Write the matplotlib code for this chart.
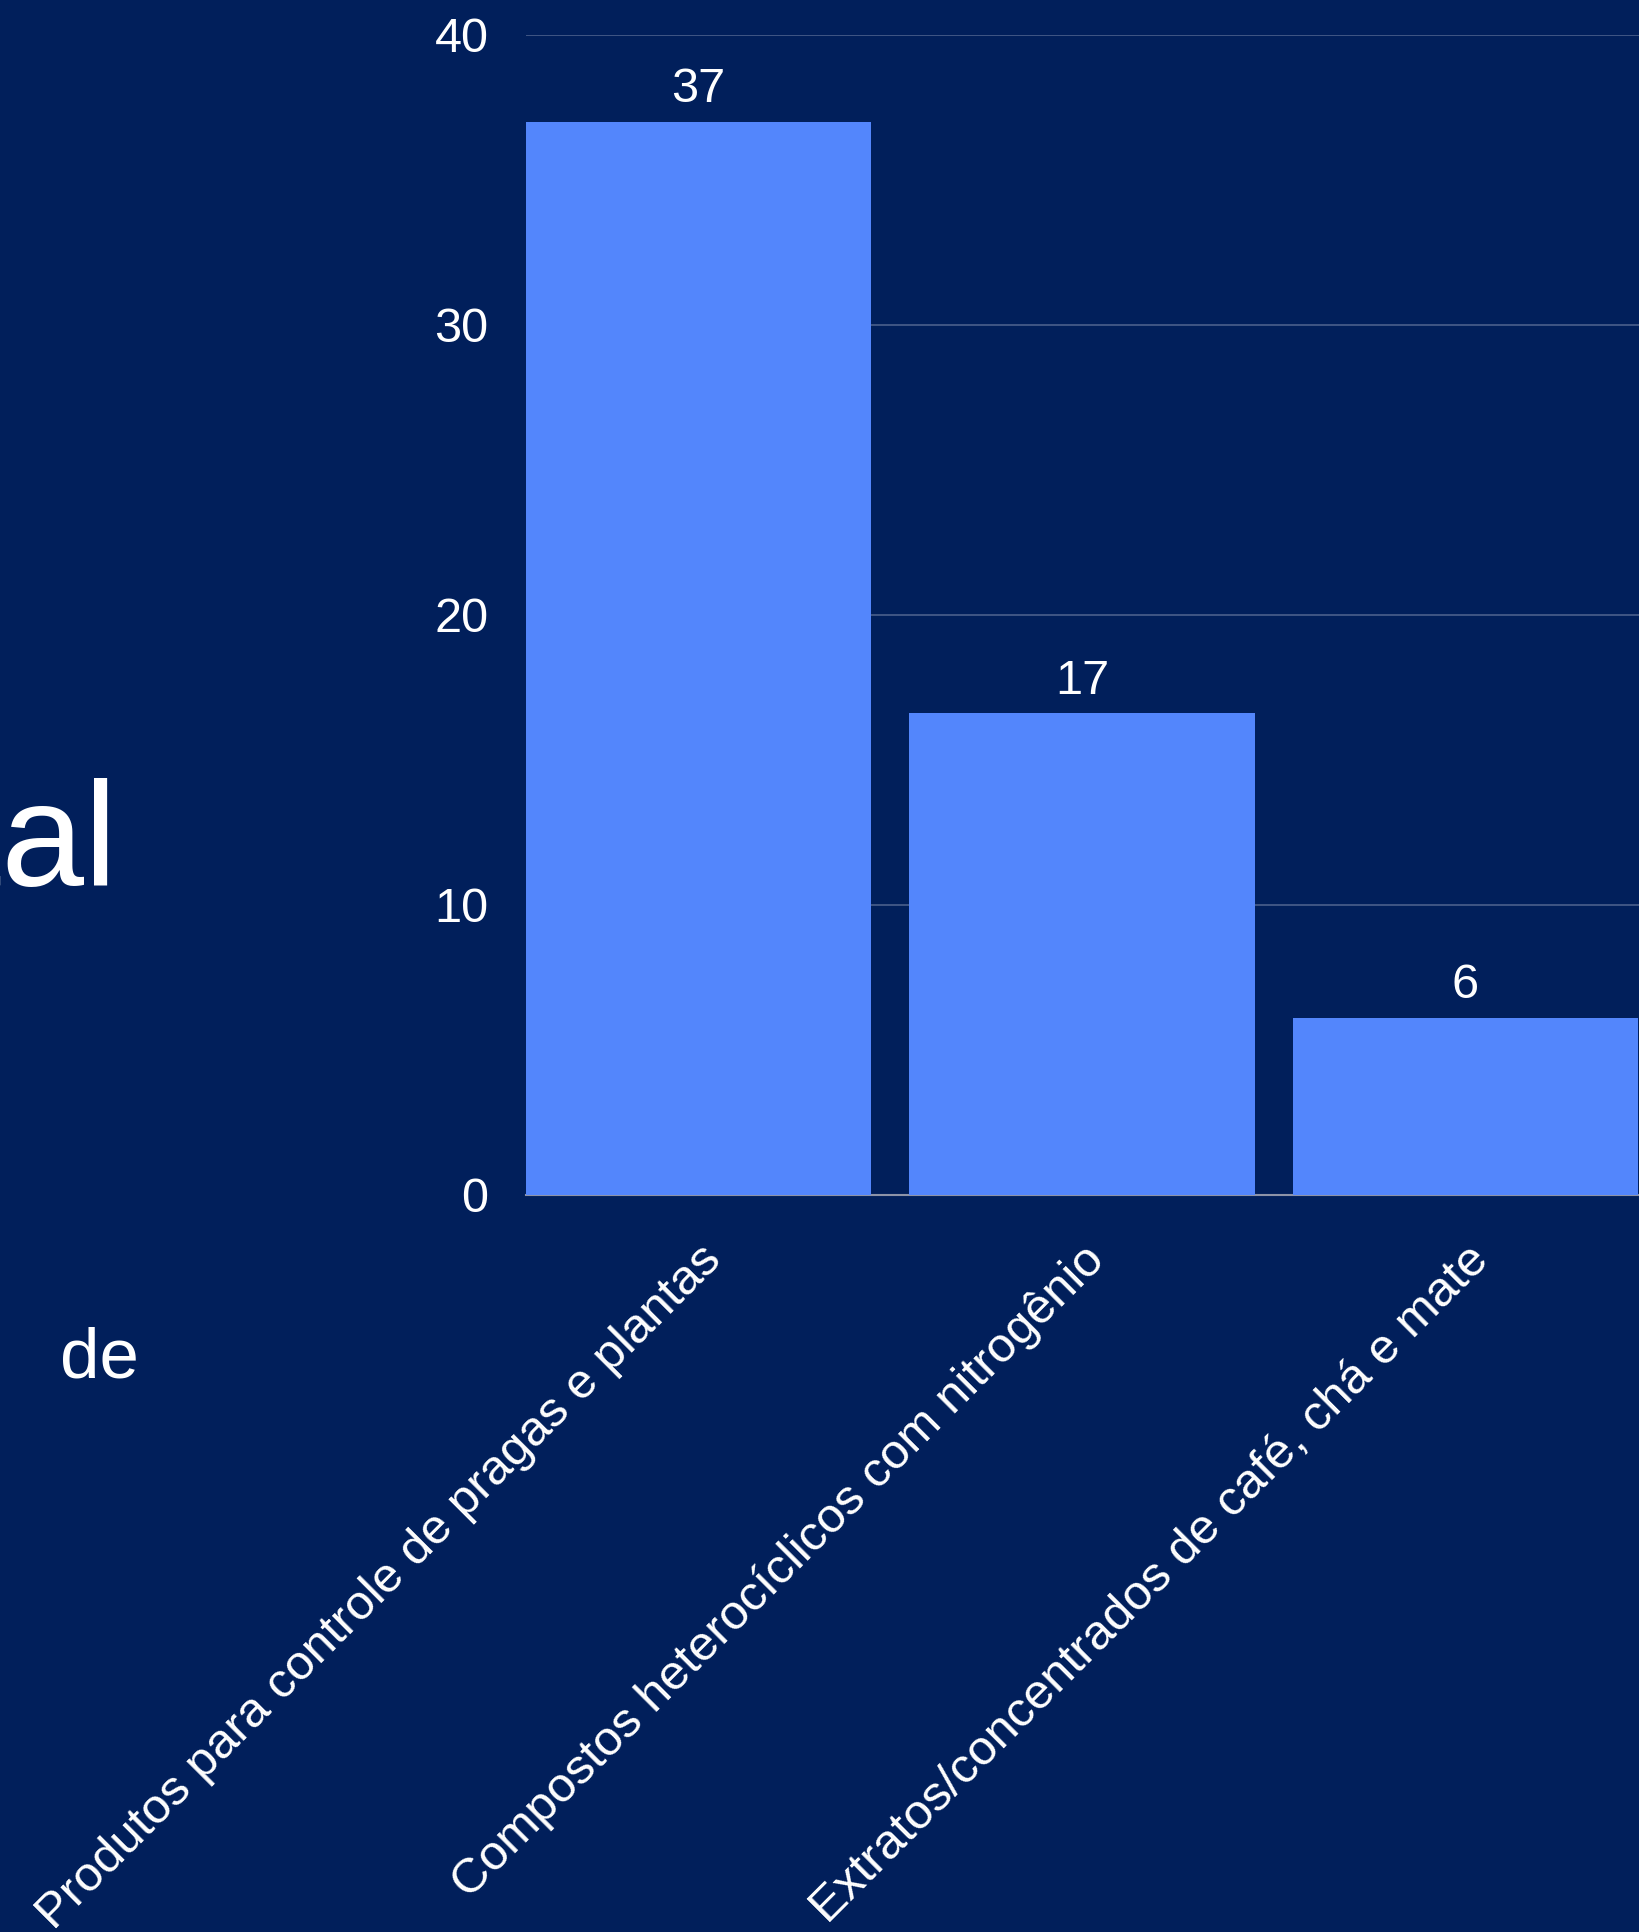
import matplotlib.pyplot as plt

categories = [
    "Produtos para controle de pragas e plantas",
    "Compostos heterocíclicos com nitrogênio",
    "Extratos/concentrados de café, chá e mate",
]
values = [37, 16.6, 6.1]
value_labels = ["37", "17", "6"]
y_ticks = [0, 10, 20, 30, 40]

bg = "#011f5b"
bar_color = "#5386fc"

plt.rcParams["font.family"] = ["Liberation Sans", "DejaVu Sans"]

fig = plt.figure(figsize=(16.4, 19.32), dpi=100, facecolor=bg)
ax = fig.add_axes([0.3207, 0.3815, 0.912, 0.6006])
ax.set_facecolor(bg)

x = list(range(len(categories)))
bars = ax.bar(x, values, width=0.9, color=bar_color, zorder=3)

for b, lab in zip(bars, value_labels):
    ax.annotate(lab, (b.get_x() + b.get_width() / 2, b.get_height()),
                xytext=(0, 7), textcoords="offset points",
                ha="center", va="bottom", color="white", fontsize=35)

ax.set_xlim(-0.45, 3.45)
ax.set_ylim(0, 40)
ax.set_yticks(y_ticks)
ax.set_yticklabels([str(t) for t in y_ticks])
ax.grid(axis="y", color="#4b5f8c", linewidth=1.2, zorder=0)
ax.set_axisbelow(True)

ax.set_xticks(x)
ax.set_xticklabels(categories, rotation=45, ha="right", va="top",
                   rotation_mode="anchor")
ax.tick_params(axis="x", length=0, pad=30, labelsize=35.5, colors="white")
ax.tick_params(axis="y", length=0, pad=27, labelsize=35, colors="white")

for side in ["top", "right", "left"]:
    ax.spines[side].set_visible(False)
ax.spines["bottom"].set_color("#8d93a8")
ax.spines["bottom"].set_linewidth(1.5)

# fragments of the slide text on the left
fig.text(118 / 1640, 1 - 886 / 1932, "Total", ha="right", va="baseline",
         fontsize=107, color="white")
fig.text(60 / 1640, 1 - 1377 / 1932, "de", ha="left", va="baseline",
         fontsize=51, color="white")

fig.savefig("out.png", dpi=100, facecolor=bg)
